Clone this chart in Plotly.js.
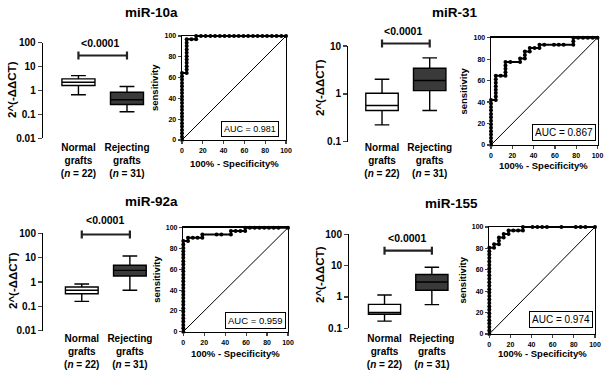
<!DOCTYPE html>
<html>
<head>
<meta charset="utf-8">
<script src="https://cdn.plot.ly/plotly-3.0.1.min.js"></script>
<style>html,body{margin:0;padding:0;background:#fff}#chart{width:607px;height:373px}</style>
</head>
<body>
<div id="chart"></div>
<script>
// ---------------- DATA ----------------
const panelTitles = ['miR-10a', 'miR-31', 'miR-92a', 'miR-155'];
const groups = ['Normal grafts', 'Rejecting grafts'];
const groupTickText = ['Normal<br>grafts<br>(<i>n</i> = 22)', 'Rejecting<br>grafts<br>(<i>n</i> = 31)'];
const pLabel = '<0.0001';
const yTitle = '2^(-ΔΔCT)';

// box stats: [lowerfence, q1, median, q3, upperfence]
const mir10aNormal = [0.66, 1.62, 2.2, 3.07, 4.2];
const mir10aReject = [0.13, 0.26, 0.41, 0.85, 1.47];
const mir31Normal  = [0.225, 0.45, 0.57, 1.03, 2.02];
const mir31Reject  = [0.45, 1.17, 1.9, 3.43, 5.66];
const mir92aNormal = [0.16, 0.33, 0.46, 0.62, 0.83];
const mir92aReject = [0.46, 1.77, 3.0, 4.87, 11.7];
const mir155Normal = [0.17, 0.28, 0.32, 0.58, 1.16];
const mir155Reject = [0.57, 1.63, 3.0, 5.2, 8.9];

// ROC curves: x = 100% - Specificity%, y = sensitivity
const roc10aX = [0,0,0,0,0,0,0,0,0,0,0,0,0,0,0,0,0,0,0,0,0,
  4.5,4.5,4.5,4.5,4.5,4.5,4.5,4.5,4.5,4.5,4.5,
  9.1,13.6,13.6,18.2,22.7,27.3,31.8,36.4,40.9,45.5,50.0,54.5,59.1,63.6,68.2,72.7,77.3,81.8,86.4,90.9,95.5,100];
const roc10aY = [0,3.2,6.5,9.7,12.9,16.1,19.4,22.6,25.8,29.0,32.3,35.5,38.7,41.9,45.2,48.4,51.6,54.8,58.1,61.3,64.5,
  64.5,67.7,71.0,74.2,77.4,80.6,83.9,87.1,90.3,93.5,96.8,
  96.8,96.8,100,100,100,100,100,100,100,100,100,100,100,100,100,100,100,100,100,100,100,100];
const roc10aAUC = 'AUC = 0.981';

const roc31X = [0,0,0,0,0,0,0,0,0,0,0,0,0,0,
  4.5,4.5,4.5,4.5,4.5,4.5,4.5,4.5,
  9.1,13.6,13.6,13.6,13.6,13.6,18.2,27.3,27.3,31.8,31.8,31.8,36.4,36.4,40.9,45.5,45.5,
  50.0,59.1,63.6,68.2,77.3,77.3,77.3,81.8,86.4,90.9,95.5,100];
const roc31Y = [0,3.2,6.5,9.7,12.9,16.1,19.4,22.6,25.8,29.0,32.3,35.5,38.7,41.9,
  41.9,45.2,48.4,51.6,54.8,58.1,61.3,64.5,
  64.5,64.5,67.7,71.0,74.2,77.4,77.4,77.4,80.6,80.6,83.9,87.1,87.1,90.3,90.3,90.3,93.5,
  93.5,93.5,93.5,93.5,93.5,96.8,100,100,100,100,100,100];
const roc31AUC = 'AUC = 0.867';

const roc92aX = [0,0,0,0,0,0,0,0,0,0,0,0,0,0,0,0,0,0,0,0,0,0,0,0,0,0,0,0,
  4.5,4.5,9.1,13.6,18.2,18.2,31.8,36.4,45.5,45.5,50.0,54.5,59.1,59.1,
  63.6,68.2,72.7,77.3,81.8,86.4,90.9,100];
const roc92aY = [0,3.2,6.5,9.7,12.9,16.1,19.4,22.6,25.8,29.0,32.3,35.5,38.7,41.9,45.2,48.4,51.6,54.8,58.1,61.3,64.5,67.7,71.0,74.2,77.4,80.6,83.9,87.1,
  87.1,90.3,90.3,90.3,90.3,93.5,93.5,93.5,93.5,96.8,96.8,96.8,96.8,100,
  100,100,100,100,100,100,100,100];
const roc92aAUC = 'AUC = 0.959';

const roc155X = [0,0,0,0,0,0,0,0,0,0,0,0,0,0,0,0,0,0,0,0,0,0,0,0,0,0,
  4.5,4.5,9.1,9.1,9.1,13.6,13.6,18.2,18.2,22.7,27.3,31.8,31.8,
  40.9,45.5,50.0,54.5,68.2,81.8,86.4,90.9,100];
const roc155Y = [0,3.2,6.5,9.7,12.9,16.1,19.4,22.6,25.8,29.0,32.3,35.5,38.7,41.9,45.2,48.4,51.6,54.8,58.1,61.3,64.5,67.7,71.0,74.2,77.4,80.6,
  80.6,83.9,83.9,87.1,90.3,90.3,93.5,93.5,96.8,96.8,96.8,96.8,100,
  100,100,100,100,100,100,100,100,100];
const roc155AUC = 'AUC = 0.974';

const rocTicks = [0, 20, 40, 60, 80, 100];
const rocXTitle = '100% - Specificity%';
const rocYTitle = 'sensitivity';

// ---------------- LAYOUT HELPERS ----------------
const W = 607, H = 373;
const FONT = 'Liberation Sans, Arial, sans-serif';
const xd = (a, b) => [a / W, b / W];
const yd = (top, bottom) => [1 - bottom / H, 1 - top / H];
const px = (x) => x / W;
const py = (y) => 1 - y / H;

const boxPanels = [
  {id: '', normal: mir10aNormal, reject: mir10aReject, xpx: [43, 160], ypx: [42.7, 138.3],
   xrange: [-0.73, 1.68], yrange: [-2, 2], ticks: [0.01, 0.1, 1, 10, 100], sigPx: 55.5, lblOff: 2,
   sigLab: [100, 43], yt: [12, 90], title: [151, 12.7]},
  {id: '3', normal: mir31Normal, reject: mir31Reject, xpx: [348.3, 465], ypx: [46, 141.7],
   xrange: [-0.707, 1.74], yrange: [-1, 1], ticks: [0.1, 1, 10], sigPx: 43.5, lblOff: -2,
   sigLab: [403, 31], yt: [320, 88], title: [455, 12]},
  {id: '5', normal: mir92aNormal, reject: mir92aReject, xpx: [43.3, 165], ypx: [233.3, 330.7],
   xrange: [-0.8, 1.73], yrange: [-2, 2], ticks: [0.01, 0.1, 1, 10, 100], sigPx: 234.5, lblOff: 0,
   sigLab: [105, 220], yt: [13, 281], title: [151, 201]},
  {id: '7', normal: mir155Normal, reject: mir155Reject, xpx: [349.3, 465], ypx: [234.3, 328.3],
   xrange: [-0.744, 1.70], yrange: [-1, 2], ticks: [0.1, 1, 10, 100], sigPx: 250.7, lblOff: 3,
   sigLab: [406.7, 238], yt: [320, 275], title: [451, 203]}
];

const rocPanels = [
  {id: '2', x: roc10aX, y: roc10aY, auc: roc10aAUC, xdom: xd(182, 286), ydom: yd(36, 140), aucPos: [93.3, 2.9], aucSize: 9,
   xt: [234, 163], yt: [155, 88]},
  {id: '4', x: roc31X, y: roc31Y, auc: roc31AUC, xdom: xd(491, 597.5), ydom: yd(37.7, 145), aucPos: [99, 4], aucSize: 10,
   xt: [543, 165.7], yt: [463.3, 91.3]},
  {id: '6', x: roc92aX, y: roc92aY, auc: roc92aAUC, xdom: xd(183.3, 288), ydom: yd(227.7, 331.7), aucPos: [98, 2.6], aucSize: 9.5,
   xt: [235.5, 353.3], yt: [157, 279.7]},
  {id: '8', x: roc155X, y: roc155Y, auc: roc155AUC, xdom: xd(489.3, 595), ydom: yd(227, 334), aucPos: [98.4, 5.3], aucSize: 10,
   xt: [542, 353.3], yt: [462, 280.5]}
];

const data = [];
const layout = {
  width: W, height: H,
  margin: {l: 0, r: 0, t: 0, b: 0},
  paper_bgcolor: '#fff', plot_bgcolor: 'rgba(0,0,0,0)',
  showlegend: false,
  font: {family: FONT, color: '#000'},
  annotations: [], shapes: []
};

function statsTrace(cat, s, fill, xa, ya) {
  return {
    type: 'box', x: [cat], lowerfence: [s[0]], q1: [s[1]], median: [s[2]], q3: [s[3]], upperfence: [s[4]],
    xaxis: xa, yaxis: ya, fillcolor: fill, line: {color: '#000', width: 1.4},
    width: 0.68, whiskerwidth: 0.45, boxpoints: false, hoverinfo: 'skip', showlegend: false
  };
}

boxPanels.forEach((p, i) => {
  const xa = 'x' + p.id, ya = 'y' + p.id;
  data.push(statsTrace(groups[0], p.normal, '#ffffff', xa, ya));
  data.push(statsTrace(groups[1], p.reject, '#3a3a3a', xa, ya));
  // significance bracket between the two category positions (paper coords)
  const catPx = (idx) => p.xpx[0] + (idx - p.xrange[0]) / (p.xrange[1] - p.xrange[0]) * (p.xpx[1] - p.xpx[0]);
  const xa0 = catPx(0), xa1 = catPx(1);
  const ln = {color: '#222', width: 2.2};
  layout.shapes.push({type: 'line', xref: 'paper', yref: 'paper', x0: px(xa0), x1: px(xa1), y0: py(p.sigPx), y1: py(p.sigPx), line: ln});
  layout.shapes.push({type: 'line', xref: 'paper', yref: 'paper', x0: px(xa0), x1: px(xa0), y0: py(p.sigPx - 4), y1: py(p.sigPx + 4), line: ln});
  layout.shapes.push({type: 'line', xref: 'paper', yref: 'paper', x0: px(xa1), x1: px(xa1), y0: py(p.sigPx - 4), y1: py(p.sigPx + 4), line: ln});
  layout['xaxis' + p.id] = {
    domain: xd(p.xpx[0], p.xpx[1]), anchor: ya, type: 'category', categoryorder: 'array', categoryarray: groups,
    range: p.xrange, showline: false, showgrid: false, zeroline: false, ticks: '',
    tickvals: groups, ticktext: groupTickText, tickfont: {size: 10, weight: 'bold'}, ticklabelstandoff: p.lblOff,
    fixedrange: true
  };
  layout['yaxis' + p.id] = {
    domain: yd(p.ypx[0], p.ypx[1]), anchor: xa, type: 'log', range: p.yrange, showline: true, linecolor: '#000', linewidth: 1.3,
    ticks: 'outside', ticklen: 4, tickwidth: 1.3, tickvals: p.ticks, ticktext: p.ticks.map(String),
    tickfont: {size: 10, weight: 'bold'}, showgrid: false, zeroline: false, fixedrange: true
  };
  layout.annotations.push({xref: 'paper', yref: 'paper', x: px(p.sigLab[0]), y: py(p.sigLab[1]), text: pLabel,
    showarrow: false, font: {size: 10.5, weight: 'bold'}, xanchor: 'center', yanchor: 'middle'});
  layout.annotations.push({xref: 'paper', yref: 'paper', x: px(p.yt[0]), y: py(p.yt[1]), text: yTitle, textangle: -90,
    showarrow: false, font: {size: 11.5, weight: 'bold'}, xanchor: 'center', yanchor: 'middle'});
  layout.annotations.push({xref: 'paper', yref: 'paper', x: px(p.title[0]), y: py(p.title[1]), text: panelTitles[i],
    showarrow: false, font: {size: 13.5, weight: 'bold'}, xanchor: 'center', yanchor: 'middle'});
});

rocPanels.forEach((p) => {
  const xa = 'x' + p.id, ya = 'y' + p.id;
  data.push({type: 'scatter', mode: 'lines', x: [0, 100], y: [0, 100], xaxis: xa, yaxis: ya,
    line: {color: '#000', width: 1}, hoverinfo: 'skip', showlegend: false});
  data.push({type: 'scatter', mode: 'lines+markers', x: p.x, y: p.y, xaxis: xa, yaxis: ya,
    line: {color: '#000', width: 2}, marker: {symbol: 'circle', size: 4, color: '#000'},
    cliponaxis: false, hoverinfo: 'skip', showlegend: false});
  const ax = {range: [0, 100], showline: true, mirror: true, linecolor: '#000', linewidth: 1.4,
    ticks: 'outside', ticklen: 3, tickwidth: 1.2, tickvals: rocTicks, tickfont: {size: 7, weight: 'bold'},
    showgrid: false, zeroline: false, fixedrange: true};
  layout['xaxis' + p.id] = Object.assign({domain: p.xdom, anchor: ya}, ax);
  layout['yaxis' + p.id] = Object.assign({domain: p.ydom, anchor: xa}, ax);
  layout.annotations.push({xref: xa, yref: ya, x: p.aucPos[0], y: p.aucPos[1], text: p.auc, showarrow: false,
    xanchor: 'right', yanchor: 'bottom', font: {size: p.aucSize}, bordercolor: '#000', borderwidth: 1, borderpad: 2,
    bgcolor: '#fff'});
  layout.annotations.push({xref: 'paper', yref: 'paper', x: px(p.xt[0]), y: py(p.xt[1]), text: rocXTitle,
    showarrow: false, font: {size: 9.5, weight: 'bold'}, xanchor: 'center', yanchor: 'middle'});
  layout.annotations.push({xref: 'paper', yref: 'paper', x: px(p.yt[0]), y: py(p.yt[1]), text: rocYTitle, textangle: -90,
    showarrow: false, font: {size: 9.5, weight: 'bold'}, xanchor: 'center', yanchor: 'middle'});
});

Plotly.newPlot('chart', data, layout, {displayModeBar: false, staticPlot: true});
</script>
</body>
</html>
